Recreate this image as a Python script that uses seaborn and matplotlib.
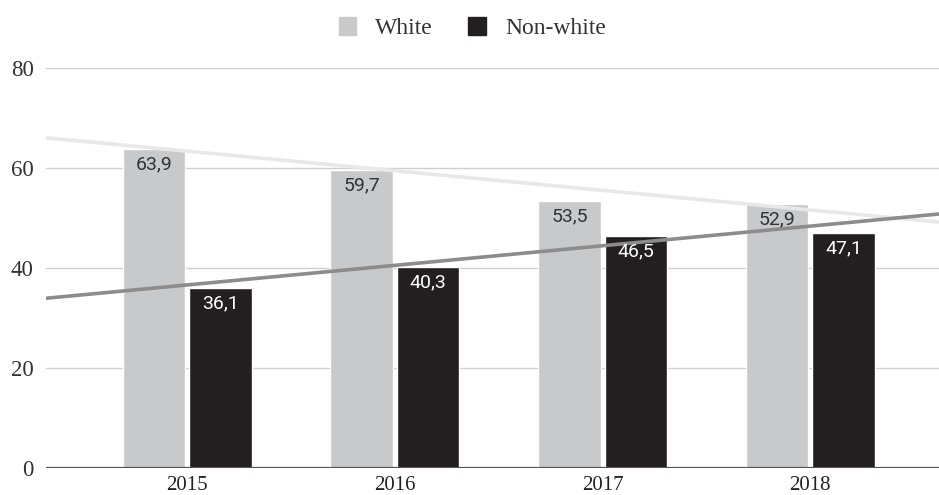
import numpy as np
import pandas as pd
import matplotlib
matplotlib.use("Agg")
import matplotlib.pyplot as plt
import seaborn as sns
from matplotlib.patches import Patch

years = ["2015", "2016", "2017", "2018"]
white = [63.9, 59.7, 53.5, 52.9]
non_white = [36.1, 40.3, 46.5, 47.1]
series_names = ["White", "Non-white"]
y_ticks = [0, 20, 40, 60, 80]

colors = {"White": "#c8c9cb", "Non-white": "#231f20"}
trend_colors = {"White": "#e8e8e8", "Non-white": "#8c8c8c"}
label_colors = {"White": "#333333", "Non-white": "#ffffff"}

df = pd.DataFrame({
    "year": years * 2,
    "value": white + non_white,
    "group": [series_names[0]] * len(years) + [series_names[1]] * len(years),
})

sns.set_theme(style="white")
serif = ["Liberation Serif", "DejaVu Serif"]

fig = plt.figure(figsize=(9.39, 4.95), dpi=100)
ax = fig.add_axes([0.049, 0.0545, 0.951, 0.808])

for yv in y_ticks[1:]:
    ax.axhline(yv, color="#cfcfcf", lw=1.0, zorder=0)

sns.barplot(data=df, x="year", y="value", hue="group", order=years,
            hue_order=series_names, palette=colors, width=0.64, gap=0.06,
            saturation=1, ax=ax, zorder=2, legend=False)

xmin, xmax = -0.68, 3.62
ax.set_xlim(xmin, xmax)
ax.set_ylim(0, 80)

# trend lines (linear fit on data)
xs = np.arange(len(years))
xl = np.array([xmin, xmax])
for name, vals in zip(series_names, [white, non_white]):
    k, b = np.polyfit(xs, vals, 1)
    ax.plot(xl, k * xl + b, color=trend_colors[name], lw=2.6, zorder=3,
            solid_capstyle="butt")

# value labels
for cont, name in zip(ax.containers, series_names):
    for rect in cont:
        h = rect.get_height()
        ax.annotate(f"{h:.1f}".replace(".", ","),
                    (rect.get_x() + rect.get_width() / 2, h),
                    xytext=(0, -5), textcoords="offset points",
                    ha="center", va="top", fontsize=14,
                    family=["Roboto", "DejaVu Sans"],
                    color=label_colors[name], zorder=4)

ax.axhline(0, color="#555555", lw=1.6, zorder=5)

ax.set_yticks(y_ticks)
ax.set_yticklabels([str(t) for t in y_ticks], family=serif, fontsize=16.5, color="#333333")
ax.set_xticks(range(len(years)))
ax.set_xticklabels(years, family=serif, fontsize=15, color="#222222")
ax.tick_params(axis="y", length=0, pad=9)
ax.tick_params(axis="x", length=0, pad=6)
ax.set_xlabel("")
ax.set_ylabel("")
for s in ax.spines.values():
    s.set_visible(False)

handles = [Patch(facecolor=colors[n], edgecolor=colors[n]) for n in series_names]
fig.legend(handles, series_names, loc="center", bbox_to_anchor=(0.503, 0.943),
           ncol=2, frameon=False, prop={"family": serif, "size": 17},
           handlelength=0.75, handleheight=0.75, handletextpad=0.8, columnspacing=1.5,
           labelcolor="#333333")

fig.savefig("out.png", dpi=100)
